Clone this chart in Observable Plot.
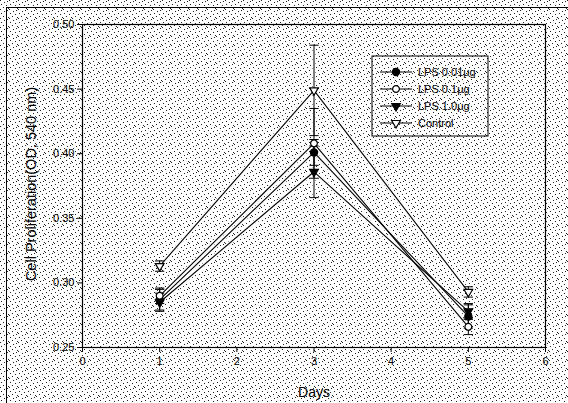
<!DOCTYPE html>
<html>
<head>
<meta charset="utf-8">
<script src="https://cdn.jsdelivr.net/npm/d3@7"></script>
<script src="https://cdn.jsdelivr.net/npm/@observablehq/plot@0.6"></script>
<style>
  html, body { margin: 0; padding: 0; }
  body {
    width: 568px; height: 403px; overflow: hidden; position: relative;
    background-color: #fff;
    background-image: url("data:image/svg+xml,%3Csvg xmlns='http://www.w3.org/2000/svg' width='9' height='9'%3E%3Crect x='0' y='0' width='1' height='1' fill='%23222'/%3E%3Crect x='4' y='2' width='1' height='1' fill='%23222'/%3E%3Crect x='7' y='1' width='1' height='1' fill='%23222'/%3E%3Crect x='1' y='4' width='1' height='1' fill='%23222'/%3E%3Crect x='6' y='5' width='1' height='1' fill='%23222'/%3E%3Crect x='3' y='7' width='1' height='1' fill='%23222'/%3E%3Crect x='8' y='8' width='1' height='1' fill='%23222'/%3E%3C/svg%3E");
  }
  #border { position: absolute; left: 6px; top: 7px; right: -2px; bottom: -2px; border-top: 1px solid #000; border-left: 1px solid #000; pointer-events: none; }
  #chart { position: absolute; left: 0; top: 0; }
</style>
</head>
<body>
<div id="chart"></div>
<div id="border"></div>
<script>
// ---- data ----
const days = [1, 3, 5];
const seriesNames = ["LPS 0.01\u03bcg", "LPS 0.1\u03bcg", "LPS 1.0\u03bcg", "Control"];
const lps001 = [0.287, 0.401, 0.274];
const lps01 = [0.290, 0.408, 0.266];
const lps10 = [0.285, 0.386, 0.278];
const control = [0.313, 0.449, 0.293];
const lps001Err = [0.008, 0.010, 0.009];
const lps01Err = [0.006, 0.027, 0.006];
const lps10Err = [0.007, 0.020, 0.006];
const controlErr = [0.004, 0.035, 0.004];
const xTicks = [0, 1, 2, 3, 4, 5, 6];
const yTicks = [0.25, 0.30, 0.35, 0.40, 0.45, 0.50];

const valueLists = [lps001, lps01, lps10, control];
const errLists = [lps001Err, lps01Err, lps10Err, controlErr];
const symbols = ["circle", "circle", "triangle", "triangle"];
const fills = ["black", "white", "black", "white"];
const rotations = [0, 0, 180, 180];
const radii = [3.6, 3.4, 3.2, 3.2];

const data = [];
seriesNames.forEach((s, i) => {
  days.forEach((d, j) => {
    data.push({series: s, idx: i, day: d, v: valueLists[i][j], e: errLists[i][j]});
  });
});

const capHalf = 0.06;
const font = "Liberation Sans, Arial, sans-serif";

const plot = Plot.plot({
  width: 568,
  height: 403,
  marginLeft: 82,
  marginRight: 23,
  marginTop: 24,
  marginBottom: 56,
  style: {background: "transparent", fontFamily: font, fontSize: "11px", color: "black"},
  x: {domain: [0, 6], label: null},
  y: {domain: [0.25, 0.50], label: null},
  marks: [
    Plot.frame({stroke: "black", strokeWidth: 1.2}),
    Plot.axisX({ticks: xTicks, tickSize: 5, tickPadding: 5, tickFormat: d3.format("d"), fontSize: 11}),
    Plot.axisY({ticks: yTicks, tickSize: 5, tickPadding: 3, tickFormat: d3.format(".2f"), fontSize: 11}),
    // white halos
    Plot.line(data, {x: "day", y: "v", z: "series", stroke: "white", strokeWidth: 4}),
    Plot.ruleX(data, {x: "day", y1: d => d.v - d.e, y2: d => d.v + d.e, stroke: "white", strokeWidth: 3}),
    Plot.ruleX(data, {x: "day", y1: d => d.v - d.e, y2: d => d.v + d.e, stroke: "black", strokeWidth: 1}),
    Plot.link(data, {x1: d => d.day - capHalf, x2: d => d.day + capHalf, y1: d => d.v + d.e, y2: d => d.v + d.e, stroke: "black", strokeWidth: 1}),
    Plot.link(data, {x1: d => d.day - capHalf, x2: d => d.day + capHalf, y1: d => d.v - d.e, y2: d => d.v - d.e, stroke: "black", strokeWidth: 1}),
    Plot.line(data, {x: "day", y: "v", z: "series", stroke: "black", strokeWidth: 1.1}),
    Plot.dot(data, {
      x: "day", y: "v",
      symbol: d => symbols[d.idx],
      fill: d => fills[d.idx],
      rotate: d => rotations[d.idx],
      r: d => radii[d.idx],
      stroke: "black", strokeWidth: 1.2
    })
  ],
  symbol: {type: "identity"},
  color: {type: "identity"},
  r: {type: "identity"}
});

document.getElementById("chart").appendChild(plot);

const svg = d3.select(plot);
// axis titles
svg.append("text")
  .attr("x", 314).attr("y", 397)
  .attr("text-anchor", "middle")
  .attr("font-family", font).attr("font-size", 14)
  .attr("fill", "black")
  .text("Days");
svg.append("text")
  .attr("transform", "translate(36,184) rotate(-90)")
  .attr("text-anchor", "middle")
  .attr("font-family", font).attr("font-size", 14.5)
  .attr("fill", "black")
  .text("Cell Proliferation(OD, 540 nm)");

// legend
const lg = svg.append("g").attr("transform", "translate(372,56)");
lg.append("rect").attr("width", 116).attr("height", 80)
  .attr("fill", "white").attr("fill-opacity", 0).attr("stroke", "black").attr("stroke-width", 1);
const symGen = [d3.symbolCircle, d3.symbolCircle, d3.symbolTriangle, d3.symbolTriangle];
seriesNames.forEach((s, i) => {
  const yy = 16 + i * 17;
  const row = lg.append("g").attr("transform", `translate(0,${yy})`);
  row.append("line").attr("x1", 8).attr("x2", 40).attr("stroke", "black").attr("stroke-width", 1);
  const area = Math.PI * radii[i] * radii[i];
  row.append("path")
    .attr("d", d3.symbol(symGen[i], area)())
    .attr("transform", `translate(24,0) rotate(${rotations[i]})`)
    .attr("fill", fills[i]).attr("stroke", "black").attr("stroke-width", 1.2);
  row.append("text").attr("x", 46).attr("y", 4)
    .attr("text-anchor", "start")
    .attr("font-family", font).attr("font-size", 11).attr("fill", "black")
    .text(s);
});
</script>
</body>
</html>
